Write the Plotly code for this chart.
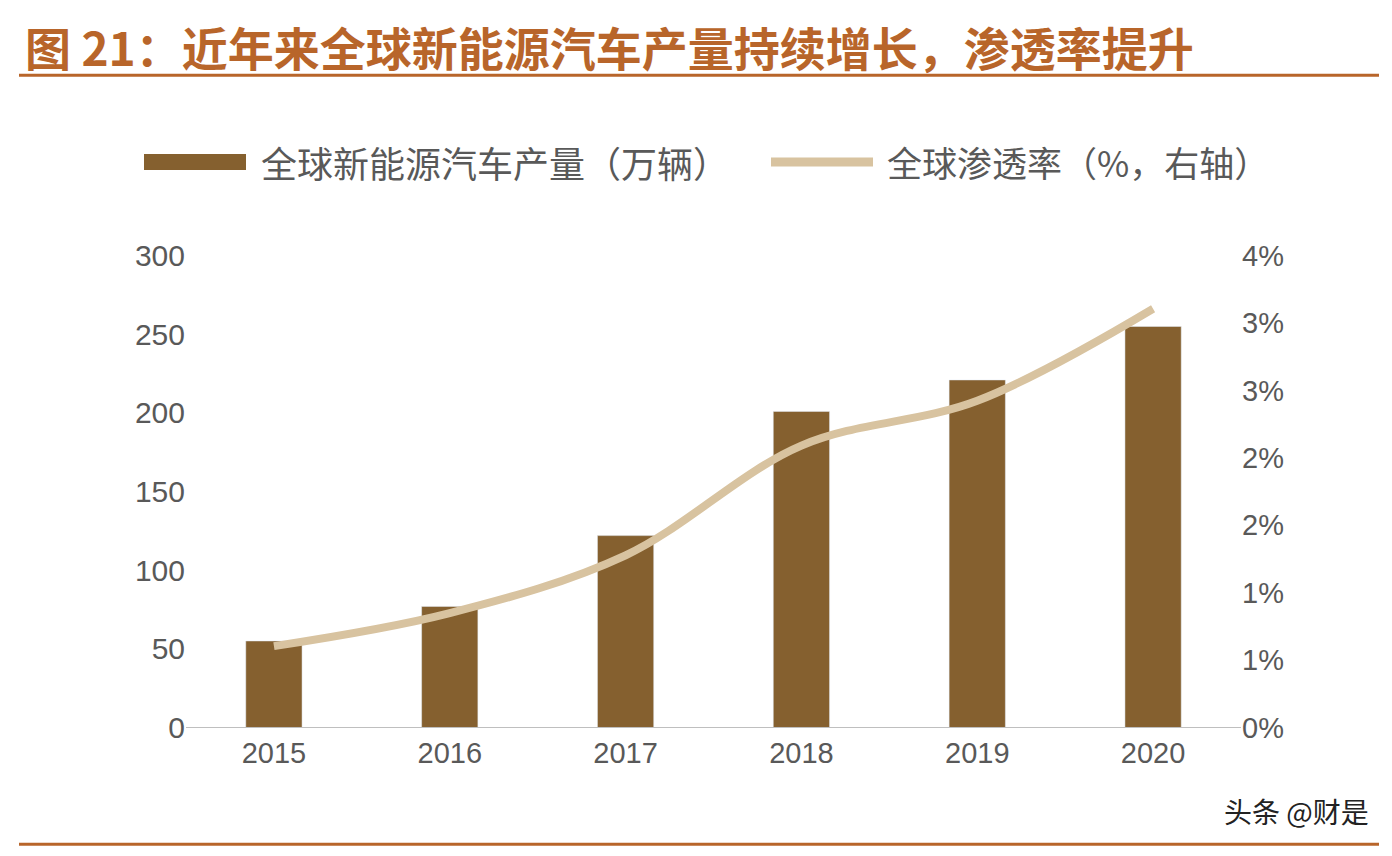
import plotly.graph_objects as go

years = ["2015", "2016", "2017", "2018", "2019", "2020"]
production = [55, 77, 122, 201, 221, 255]
penetration = [0.69, 0.97, 1.46, 2.39, 2.77, 3.55]
right_tickvals = [i * 4 / 7 for i in range(8)]
right_ticktext = ["0%", "1%", "1%", "2%", "2%", "3%", "3%", "4%"]
left_tickvals = [0, 50, 100, 150, 200, 250, 300]

W, H = 1392, 856
def px(x): return (x - 7) / W
def py(y): return 1 - (74 + (y - 95) / 0.964) / H

fig = go.Figure()
fig.add_bar(x=years, y=production, marker_color="#85602F", width=0.32, yaxis="y", showlegend=False)
fig.add_scatter(x=years, y=penetration, mode="lines", line=dict(color="#D8C3A0", width=8, shape="spline"),
                yaxis="y2", showlegend=False)

font = "Noto Sans CJK SC"
fig.update_layout(
    width=W, height=H, margin=dict(l=0, r=0, t=0, b=0),
    paper_bgcolor="white", plot_bgcolor="white",
    font=dict(family=font, color="#595959"),
    xaxis=dict(domain=[px(185), px(1240)], showline=True, linecolor="#BFBFBF", linewidth=1,
               tickfont=dict(size=29, family="Liberation Sans"), ticks=""),
    yaxis=dict(domain=[py(728), py(255)], range=[0, 300], tickvals=left_tickvals,
               showgrid=False, zeroline=False, tickfont=dict(size=30, family="Liberation Sans")),
    yaxis2=dict(overlaying="y", side="right", range=[0, 4], tickvals=right_tickvals,
                ticktext=right_ticktext, showgrid=False, zeroline=False,
                tickfont=dict(size=29, family="Liberation Sans")),
    shapes=[
        dict(type="line", xref="paper", yref="paper", x0=px(18), x1=px(1378), y0=py(74), y1=py(74),
             line=dict(color="#B8652A", width=3)),
        dict(type="line", xref="paper", yref="paper", x0=px(18), x1=px(1378), y0=py(845), y1=py(845),
             line=dict(color="#B8652A", width=3)),
        dict(type="rect", xref="paper", yref="paper", x0=px(143), x1=px(245), y0=py(153), y1=py(169),
             fillcolor="#85602F", line=dict(width=0)),
        dict(type="line", xref="paper", yref="paper", x0=px(770), x1=px(872), y0=py(161), y1=py(161),
             line=dict(color="#D8C3A0", width=9)),
    ],
    annotations=[
        dict(text="<b>图 21：近年来全球新能源汽车产量持续增长，渗透率提升</b>", xref="paper", yref="paper",
             x=px(22), y=1 - 22 / H, xanchor="left", yanchor="middle", showarrow=False,
             font=dict(size=46, color="#B8652A", family=font)),
        dict(text="全球新能源汽车产量（万辆）", xref="paper", yref="paper", x=px(258), y=py(161),
             xanchor="left", yanchor="middle", showarrow=False, font=dict(size=36, color="#595959")),
        dict(text="全球渗透率（%，右轴）", xref="paper", yref="paper", x=px(884), y=py(161),
             xanchor="left", yanchor="middle", showarrow=False, font=dict(size=35, color="#595959")),
        dict(text="头条 @财是", xref="paper", yref="paper", x=px(1370), y=py(812),
             xanchor="right", yanchor="middle", showarrow=False, font=dict(size=28, color="#222222")),
    ],
)
fig.write_html("out.html")
